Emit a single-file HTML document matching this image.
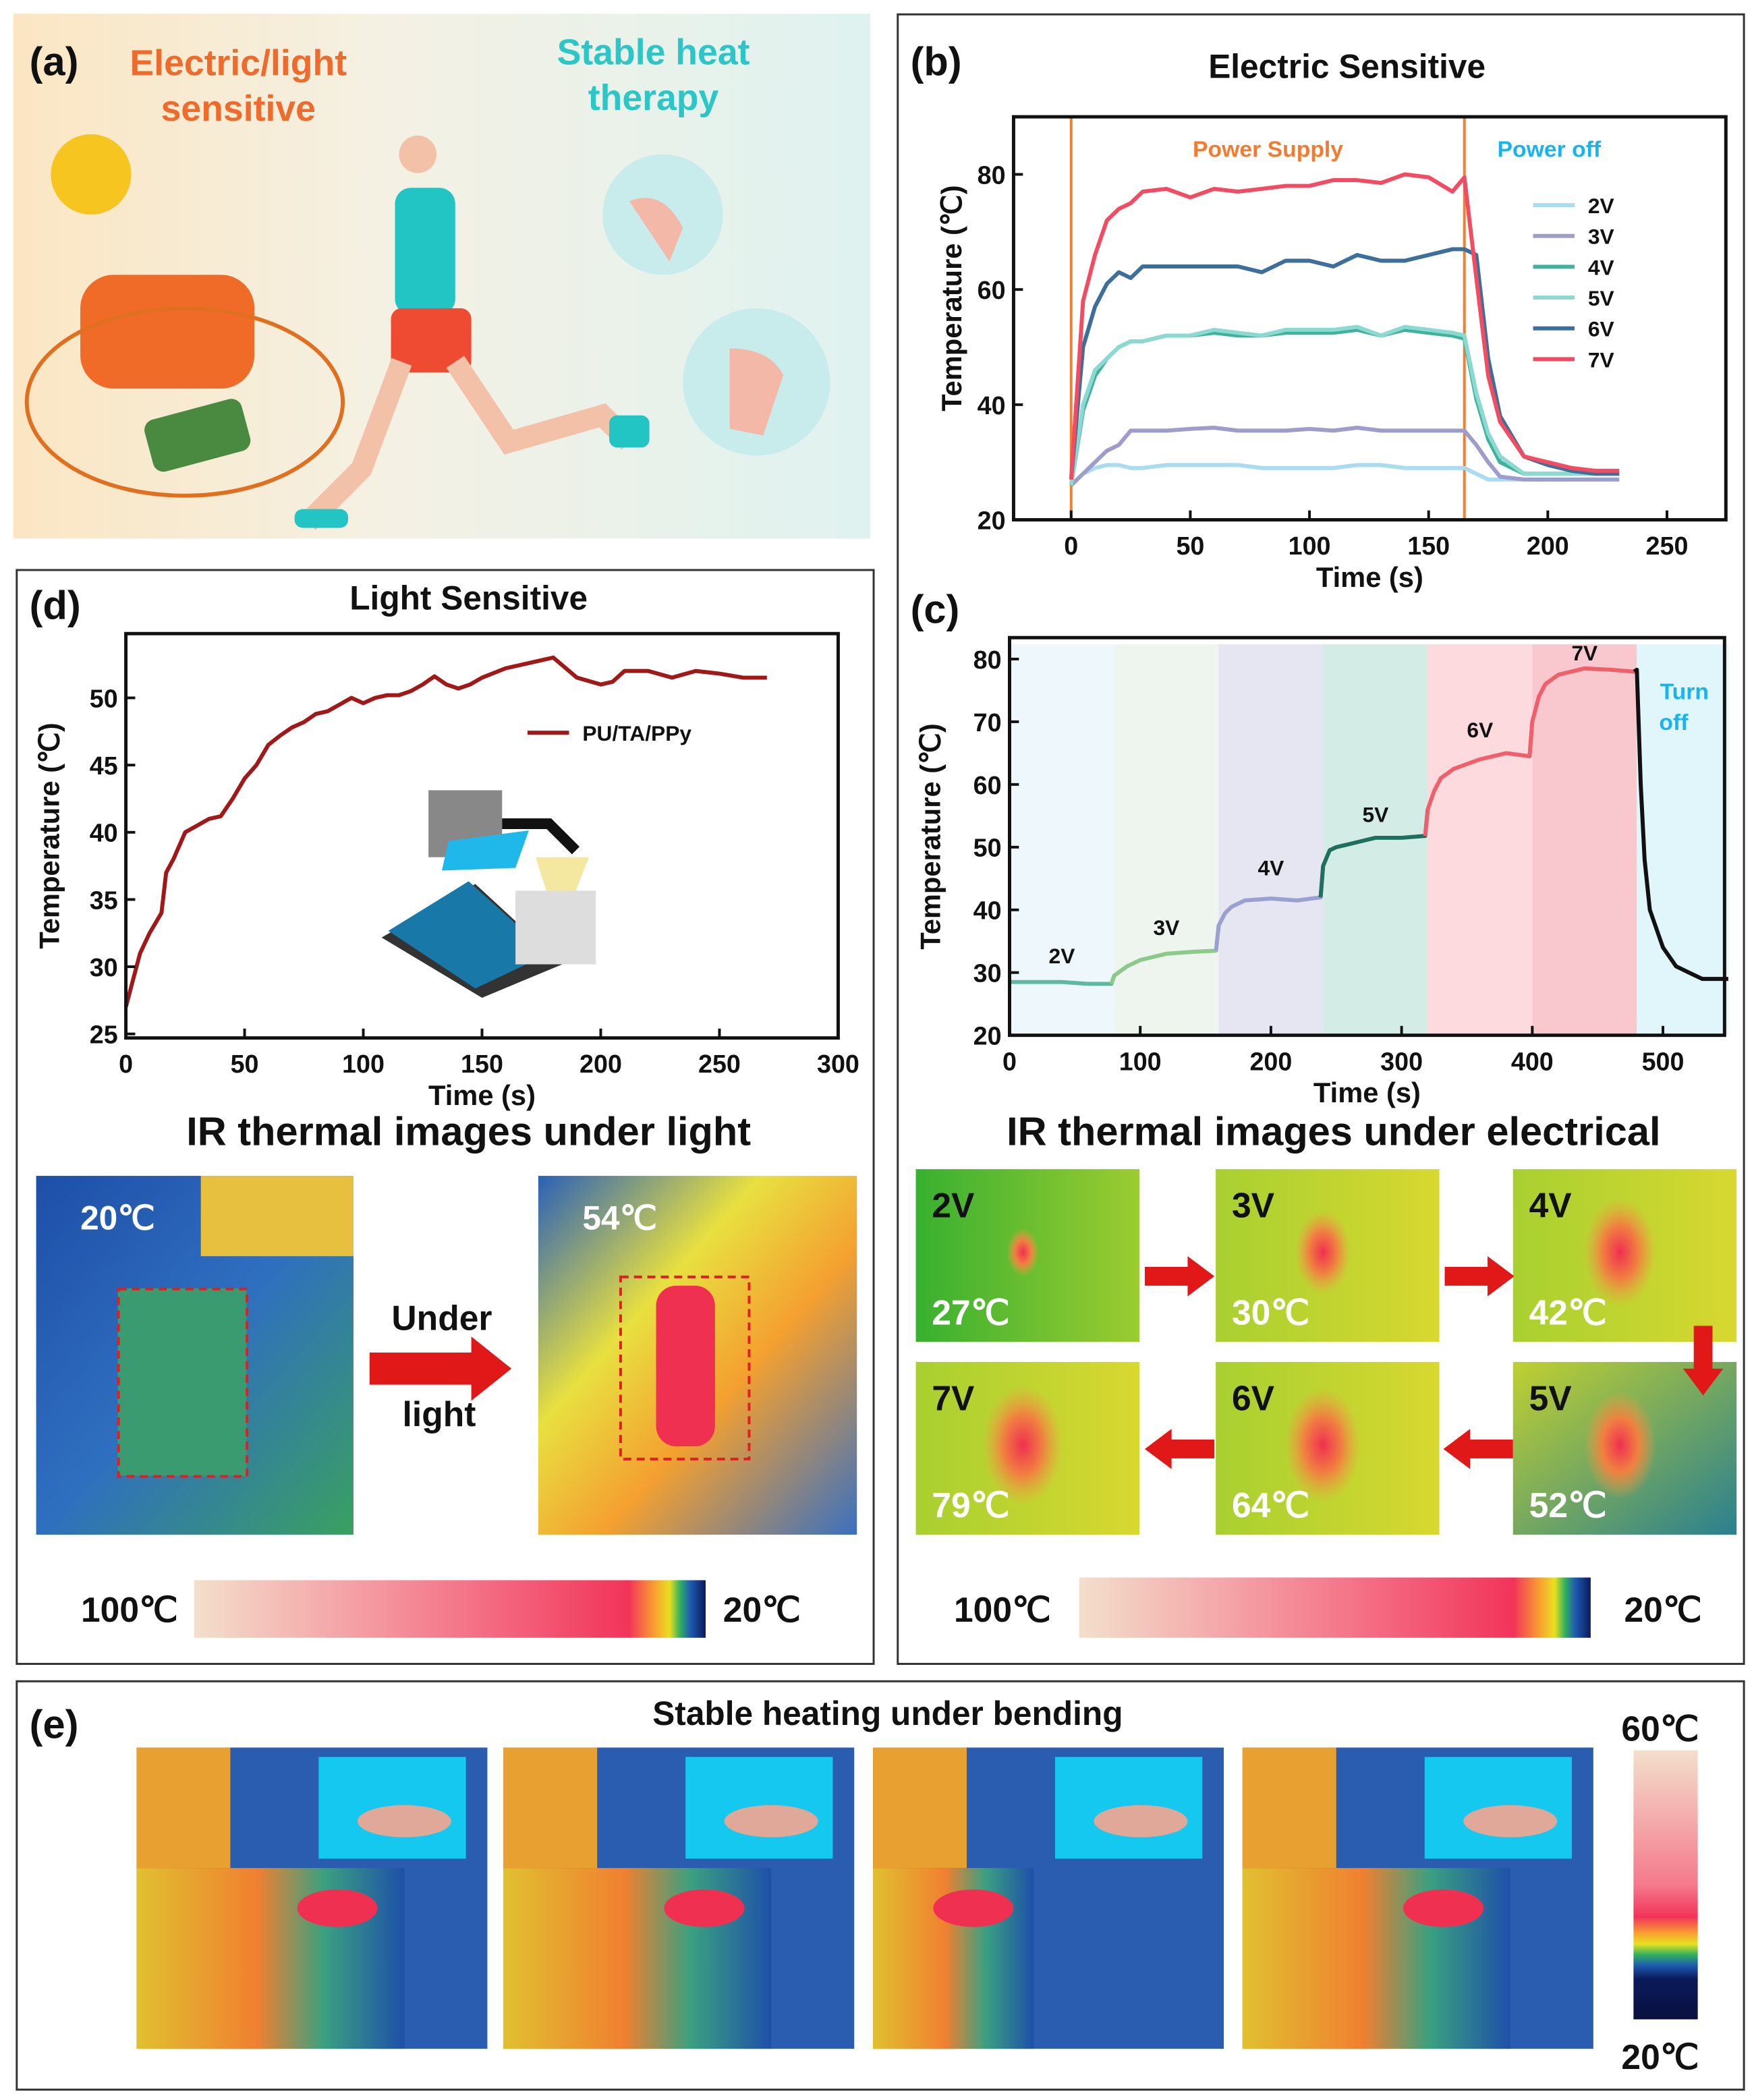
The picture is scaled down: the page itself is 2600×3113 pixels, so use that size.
<!DOCTYPE html>
<html><head><meta charset="utf-8"><style>
html,body{margin:0;padding:0;background:#fff}
svg{display:block;font-family:"Liberation Sans",Arial,sans-serif}
</style></head><body>
<svg id="fig" width="2600" height="3113" viewBox="0 0 1310 1568" xmlns="http://www.w3.org/2000/svg">
<defs>
<linearGradient id="aBg" x1="0" x2="1"><stop offset="0" stop-color="#fbe6c3"/><stop offset="0.45" stop-color="#f4f1e4"/><stop offset="1" stop-color="#dff2f0"/></linearGradient>
<linearGradient id="cmapH" x1="0" x2="1"><stop offset="0" stop-color="#f3dfcc"/><stop offset="0.5" stop-color="#f47a8c"/><stop offset="0.85" stop-color="#f2345a"/><stop offset="0.9" stop-color="#f8a030"/><stop offset="0.93" stop-color="#e8e020"/><stop offset="0.95" stop-color="#30b060"/><stop offset="0.97" stop-color="#1e5ab0"/><stop offset="1" stop-color="#0a1a5a"/></linearGradient>
<linearGradient id="cmapV" x1="0" x2="0" y1="0" y2="1"><stop offset="0" stop-color="#f3dfcc"/><stop offset="0.5" stop-color="#f47a8c"/><stop offset="0.62" stop-color="#f2345a"/><stop offset="0.68" stop-color="#f8a030"/><stop offset="0.72" stop-color="#e8e020"/><stop offset="0.76" stop-color="#30b060"/><stop offset="0.8" stop-color="#1e5ab0"/><stop offset="0.85" stop-color="#0a1a5a"/><stop offset="1" stop-color="#0a1040"/></linearGradient>
<linearGradient id="irBlue" x1="0" x2="1" y1="0" y2="1"><stop offset="0" stop-color="#1e4fa8"/><stop offset="0.5" stop-color="#2f6fc0"/><stop offset="1" stop-color="#3aa060"/></linearGradient>
<linearGradient id="irHot" x1="0" x2="1" y1="0" y2="1"><stop offset="0" stop-color="#2a60b8"/><stop offset="0.35" stop-color="#e8e040"/><stop offset="0.6" stop-color="#f4a030"/><stop offset="1" stop-color="#3a70c0"/></linearGradient>
<radialGradient id="spot" cx="0.5" cy="0.5" r="0.5"><stop offset="0" stop-color="#f03050"/><stop offset="0.5" stop-color="#f08040"/><stop offset="1" stop-color="#f0a040" stop-opacity="0"/></radialGradient>
<linearGradient id="greenIR" x1="0" x2="1"><stop offset="0" stop-color="#38b030"/><stop offset="1" stop-color="#9ccc30"/></linearGradient>
<linearGradient id="yelIR" x1="0" x2="1"><stop offset="0" stop-color="#a8d030"/><stop offset="1" stop-color="#d8d830"/></linearGradient>
<linearGradient id="tealIR" x1="0" x2="1" y1="0" y2="1"><stop offset="0" stop-color="#c0d030"/><stop offset="1" stop-color="#2a8090"/></linearGradient>
<linearGradient id="eImg" x1="0" x2="1"><stop offset="0" stop-color="#e0c030"/><stop offset="0.45" stop-color="#f08030"/><stop offset="0.7" stop-color="#3aa080"/><stop offset="1" stop-color="#1e50a8"/></linearGradient>
</defs>

<g>
<rect x="10" y="10" width="640" height="392" fill="url(#aBg)"/>
<text x="22" y="56" font-size="30" font-weight="bold" fill="#111">(a)</text>
<text x="178" y="56" font-size="27" font-weight="bold" fill="#ef6b2c" text-anchor="middle">Electric/light</text>
<text x="178" y="90" font-size="27" font-weight="bold" fill="#ef6b2c" text-anchor="middle">sensitive</text>
<text x="488" y="48" font-size="27" font-weight="bold" fill="#2cc6c6" text-anchor="middle">Stable heat</text>
<text x="488" y="82" font-size="27" font-weight="bold" fill="#2cc6c6" text-anchor="middle">therapy</text>
<circle cx="68" cy="130" r="30" fill="#f7c520"/>
<rect x="60" y="205" width="130" height="85" rx="25" fill="#f06a28"/>
<ellipse cx="138" cy="300" rx="118" ry="70" fill="none" stroke="#e07020" stroke-width="3"/>
<rect x="110" y="305" width="75" height="40" rx="8" fill="#4a8a40" transform="rotate(-15 147 325)"/>
<circle cx="495" cy="160" r="45" fill="#c8ecec"/>
<circle cx="565" cy="285" r="55" fill="#c8ecec"/>
<path d="M470 150 q25 -10 40 20 l-10 25 z" fill="#f3b8a8"/>
<path d="M545 260 q30 0 40 20 l-15 45 -25 -5 z" fill="#f3b8a8"/>
<g>
<circle cx="312" cy="115" r="14" fill="#f3c0a8"/>
<rect x="295" y="140" width="45" height="95" rx="12" fill="#22c4c4"/>
<rect x="292" y="230" width="60" height="48" rx="8" fill="#ef4b33"/>
<path d="M300 270 l-30 80 -40 40" stroke="#f3c0a8" stroke-width="16" fill="none"/>
<path d="M340 270 l40 60 70 -20 20 20" stroke="#f3c0a8" stroke-width="16" fill="none"/>
<rect x="220" y="380" width="40" height="14" rx="6" fill="#22c4c4"/>
<rect x="455" y="310" width="30" height="24" rx="6" fill="#22c4c4"/>
</g>
</g>

<rect x="670.5" y="10.5" width="632" height="1232" fill="none" stroke="#333" stroke-width="1.5"/>
<rect x="12.5" y="425.5" width="640" height="817" fill="none" stroke="#333" stroke-width="1.5"/>
<rect x="12.5" y="1255.5" width="1290" height="305" fill="none" stroke="#333" stroke-width="1.5"/>

<text x="680" y="56" font-size="30" font-weight="bold" fill="#111">(b)</text>
<text x="1006" y="58" font-size="25" font-weight="bold" fill="#111" text-anchor="middle">Electric Sensitive</text>
<g id="chartB"></g>

<text x="680" y="465" font-size="30" font-weight="bold" fill="#111">(c)</text>
<g id="chartC"></g>

<text x="22" y="462" font-size="30" font-weight="bold" fill="#111">(d)</text>
<text x="350" y="455" font-size="25" font-weight="bold" fill="#111" text-anchor="middle">Light Sensitive</text>
<g id="chartD"></g>

<g>
<polygon points="285,700 355,660 420,720 360,745" fill="#333"/>
<polygon points="290,695 350,658 410,712 355,738" fill="#1878a8"/>
<rect x="320" y="590" width="55" height="50" fill="#888"/>
<polygon points="335,628 395,620 385,648 330,650" fill="#20b8ea"/>
<rect x="385" y="665" width="60" height="55" fill="#ddd"/>
<polygon points="400,640 440,640 430,665 408,665" fill="#f4e8a0"/>
<path d="M375 615 h35 l20 20" stroke="#111" stroke-width="8" fill="none"/>
</g>

<text x="350" y="855" font-size="30" font-weight="bold" fill="#111" text-anchor="middle">IR thermal images under light</text>
<g>
<rect x="27" y="878" width="237" height="268" fill="url(#irBlue)"/>
<rect x="150" y="878" width="114" height="60" fill="#e8c040"/>
<rect x="88" y="962" width="96" height="140" fill="#3a9a70"/>
<rect x="88.5" y="962.5" width="96" height="140" fill="none" stroke="#e02020" stroke-width="2" stroke-dasharray="6 4"/>
<text x="60" y="918" font-size="25" font-weight="bold" fill="#fff">20℃</text>
</g>
<g>
<rect x="402" y="878" width="238" height="268" fill="url(#irHot)"/>
<rect x="490" y="960" width="44" height="120" rx="15" fill="#f03050"/>
<rect x="463.5" y="953.5" width="96" height="136" fill="none" stroke="#e02020" stroke-width="2" stroke-dasharray="6 4"/>
<text x="435" y="918" font-size="25" font-weight="bold" fill="#fff">54℃</text>
</g>
<polygon points="276,1010 352,1010 352,998 382,1022 352,1046 352,1034 276,1034" fill="#e01818"/>
<text x="330" y="993" font-size="26" font-weight="bold" fill="#111" text-anchor="middle">Under</text>
<text x="328" y="1065" font-size="26" font-weight="bold" fill="#111" text-anchor="middle">light</text>
<text x="133" y="1211" font-size="26" font-weight="bold" fill="#111" text-anchor="end">100℃</text>
<rect x="145" y="1180" width="382" height="43" fill="url(#cmapH)"/>
<text x="540" y="1211" font-size="26" font-weight="bold" fill="#111">20℃</text>

<text x="996" y="855" font-size="30" font-weight="bold" fill="#111" text-anchor="middle">IR thermal images under  electrical</text>
<g id="irElec"></g>
<text x="785" y="1211" font-size="26" font-weight="bold" fill="#111" text-anchor="end">100℃</text>
<rect x="806" y="1178" width="382" height="45" fill="url(#cmapH)"/>
<text x="1213" y="1211" font-size="26" font-weight="bold" fill="#111">20℃</text>

<text x="22" y="1298" font-size="30" font-weight="bold" fill="#111">(e)</text>
<text x="663" y="1288" font-size="25" font-weight="bold" fill="#111" text-anchor="middle">Stable heating under bending</text>
<g id="eImgs"></g>
<text x="1240" y="1300" font-size="26" font-weight="bold" fill="#111" text-anchor="middle">60℃</text>
<rect x="1220" y="1307" width="48" height="201" fill="url(#cmapV)"/>
<text x="1240" y="1545" font-size="26" font-weight="bold" fill="#111" text-anchor="middle">20℃</text>
</svg>

<script>
const NS = "http://www.w3.org/2000/svg";
const bTimes = [0,5,10,15,20,25,30,40,50,60,70,80,90,100,110,120,130,140,150,160,165,170,175,180,190,200,210,220,230];
const bSeriesNames = ["2V","3V","4V","5V","6V","7V"];
const bV2 = [26,28,29,29.5,29.5,29,29,29.5,29.5,29.5,29.5,29,29,29,29,29.5,29.5,29,29,29,29,28,27,27,27,27,27,27,27];
const bV3 = [26,28,30,32,33,35.5,35.5,35.5,35.8,36,35.5,35.5,35.5,35.8,35.5,36,35.5,35.5,35.5,35.5,35.5,33,30,27.5,27,27,27,27,27];
const bV4 = [26,39,45,48,50,51,51,52,52,52.5,52,52,52.5,52.5,52.5,53,52,53,52.5,52,51.5,41,34,30,28,28,28,28,28];
const bV5 = [26,40,46,48,50,51,51,52,52,53,52.5,52,53,53,53,53.5,52,53.5,53,52.5,52,42,35,31,28,28,28,28,28];
const bV6 = [27,50,57,61,63,62,64,64,64,64,64,63,65,65,64,66,65,65,66,67,67,66,48,38,31,29.5,28.5,28,28];
const bV7 = [27,58,66,72,74,75,77,77.5,76,77.5,77,77.5,78,78,79,79,78.5,80,79.5,77,79.5,62,45,37,31,30,29,28.5,28.5];
const bXTicks = [0,50,100,150,200,250];
const bYTicks = [20,40,60,80];
const cTimes = [0,20,40,60,78,80,90,100,120,140,158,160,165,170,180,200,220,238,240,245,250,260,280,300,318,320,325,330,340,360,380,398,400,405,410,420,440,460,478,480,483,486,490,500,510,520,530,550];
const cTemps = [28.5,28.5,28.5,28.2,28.2,29.5,31,32,33,33.3,33.5,37.5,39.5,40.5,41.5,41.8,41.5,42,47,49.5,50,50.5,51.5,51.5,51.8,56,59,61,62.5,64,65,64.5,70,74,76,77.5,78.5,78.3,78,78.3,60,48,40,34,31,30,29,29];
const cBands = [0,80,160,240,320,400,480,550];
const cBandLabels = ["2V","3V","4V","5V","6V","7V"];
const cLabelTemps = [31.5,36,45.5,54,67.5,79.8];
const cXTicks = [0,100,200,300,400,500];
const cYTicks = [20,30,40,50,60,70,80];
const dTimes = [0,3,6,10,15,17,20,25,30,35,40,45,50,55,60,65,70,75,80,85,90,95,100,105,110,115,120,125,130,135,140,145,150,160,170,180,190,200,205,210,220,230,240,250,260,270];
const dTemps = [27,29,31,32.5,34,37,38,40,40.5,41,41.2,42.5,44,45,46.5,47.2,47.8,48.2,48.8,49,49.5,50,49.6,50,50.2,50.2,50.5,51,51.6,51,50.7,51,51.5,52.2,52.6,53,51.5,51,51.2,52,52,51.5,52,51.8,51.5,51.5];
const dXTicks = [0,50,100,150,200,250,300];
const dYTicks = [25,30,35,40,45,50];

function mk(tag, attrs, parent, text){
  const e=document.createElementNS(NS,tag);
  for(const k in attrs) e.setAttribute(k,attrs[k]);
  if(text!==undefined) e.textContent=text;
  parent.appendChild(e); return e;
}
function scale(d0,d1,r0,r1){return v=>r0+(v-d0)*(r1-r0)/(d1-d0);}
function axes(g,box,xs,ys,xt,yt,xlabel,ylabel){
  const fr=mk('rect',{x:box.x0,y:box.y0,width:box.x1-box.x0,height:box.y1-box.y0,fill:'none',stroke:'#111','stroke-width':2.5},g);
  
  
  xt.forEach(v=>{
    mk('line',{x1:xs(v),x2:xs(v),y1:box.y1,y2:box.y1-7,stroke:'#111','stroke-width':2},g);
    const t=mk('text',{x:xs(v),y:box.y1+26,'font-size':19,'font-weight':'bold','text-anchor':'middle',fill:'#111'},g,String(v));
    
    
  });
  yt.forEach(v=>{
    mk('line',{x1:box.x0,x2:box.x0+7,y1:ys(v),y2:ys(v),stroke:'#111','stroke-width':2},g);
    const t=mk('text',{x:box.x0-6,y:ys(v)+7,'font-size':19,'font-weight':'bold','text-anchor':'end',fill:'#111'},g,String(v));
    
    
  });
  const xl=mk('text',{x:(box.x0+box.x1)/2,y:box.y1+50,'font-size':21,'font-weight':'bold','text-anchor':'middle',fill:'#111'},g,xlabel);
  
  
  const cy=(box.y0+box.y1)/2+(box.yOff||0);
  const yl=mk('text',{x:box.ylx,y:cy,'font-size':21,'font-weight':'bold','text-anchor':'middle',fill:'#111',transform:`rotate(-90 ${box.ylx} ${cy})`},g,ylabel);
  
  
}
function pathD(xsArr,ysArr,xs,ys){return xsArr.map((v,i)=>(i?'L':'M')+xs(v).toFixed(1)+' '+ys(ysArr[i]).toFixed(1)).join(' ');}

(function(){
  const g=document.getElementById('chartB');
  const box={x0:757,x1:1289,y0:87,y1:388,ylx:718,yOff:-15};
  const xs=scale(0,250,800,1245), ys=scale(20,80,388,130);
  mk('line',{x1:xs(0),x2:xs(0),y1:box.y0,y2:box.y1,stroke:'#f08030','stroke-width':2},g);
  mk('line',{x1:xs(165),x2:xs(165),y1:box.y0,y2:box.y1,stroke:'#f08030','stroke-width':2},g);
  const t1=mk('text',{x:947,y:117,'font-size':17,'font-weight':'bold',fill:'#f47a30','text-anchor':'middle'},g,'Power Supply');
  
  
  const t2=mk('text',{x:1157,y:117,'font-size':17,'font-weight':'bold',fill:'#19b4ee','text-anchor':'middle'},g,'Power off');
  
  
  const vals=[bV2,bV3,bV4,bV5,bV6,bV7];
  const cols=['#a9dcf0','#9e9ccb','#3db49a','#8cd9d2','#3e6e9a','#f24c62'];
  vals.forEach((v,i)=>{
    const p=mk('path',{d:pathD(bTimes,v,xs,ys),fill:'none',stroke:cols[i],'stroke-width':3,'stroke-linejoin':'round'},g);
    
    
    const ly=153+i*23;
    const l=mk('line',{x1:1145,x2:1176,y1:ly,y2:ly,stroke:cols[i],'stroke-width':3},g);
    
    
    const lt=mk('text',{x:1186,y:ly+6,'font-size':16,'font-weight':'bold',fill:'#111'},g,bSeriesNames[i]);
    
    
  });
  axes(g,box,xs,ys,bXTicks,bYTicks,'Time (s)','Temperature (℃)');
})();

(function(){
  const g=document.getElementById('chartC');
  const box={x0:754,x1:1288,y0:476,y1:773,ylx:702};
  const xs=scale(0,500,754,1242), ys=scale(20,80,773,492);
  const bandCols=['#eef7fc','#edf5ee','#e6e5f2','#d4ece6','#fcdadd','#f8c8ce','#e0f6fa'];
  for(let i=0;i<cBands.length-1;i++){
    const r=mk('rect',{x:xs(cBands[i]),y:box.y0+5,width:xs(cBands[i+1])-xs(cBands[i]),height:box.y1-box.y0-5,fill:bandCols[i]},g);
    
    
  }
  const segCols=['#5fb8a0','#8cc98a','#9aa0d0','#1f6e5e','#f0606a','#f0606a','#111'];
  for(let b=0;b<cBands.length-1;b++){
    const xsA=[],ysA=[];
    cTimes.forEach((t,i)=>{ if(t>=cBands[b]-2 && t<=cBands[b+1]+2){xsA.push(t);ysA.push(cTemps[i]);} });
    const p=mk('path',{d:pathD(xsA,ysA,xs,ys),fill:'none',stroke:segCols[b],'stroke-width':3,'stroke-linejoin':'round'},g);
    
    
  }
  cBandLabels.forEach((lab,i)=>{
    const t=mk('text',{x:xs((cBands[i]+cBands[i+1])/2),y:ys(cLabelTemps[i]),'font-size':16,'font-weight':'bold',fill:'#111','text-anchor':'middle'},g,lab);
    
    
  });
  const o1=mk('text',{x:1258,y:522,'font-size':17,'font-weight':'bold',fill:'#19b4ee','text-anchor':'middle'},g,'Turn');
  
  
  mk('text',{x:1250,y:545,'font-size':17,'font-weight':'bold',fill:'#19b4ee','text-anchor':'middle'},g,'off');
  axes(g,box,xs,ys,cXTicks,cYTicks,'Time (s)','Temperature (℃)');
})();

(function(){
  const g=document.getElementById('chartD');
  const box={x0:94,x1:626,y0:473,y1:775,ylx:44};
  const xs=scale(0,300,94,626), ys=scale(25,50,772,521);
  const p=mk('path',{d:pathD(dTimes,dTemps,xs,ys),fill:'none',stroke:'#a01818','stroke-width':3,'stroke-linejoin':'round'},g);
  
  
  const l=mk('line',{x1:394,x2:425,y1:547,y2:547,stroke:'#a01818','stroke-width':3},g);
  
  
  const lt=mk('text',{x:435,y:553,'font-size':16,'font-weight':'bold',fill:'#111'},g,'PU/TA/PPy');
  
  
  axes(g,box,xs,ys,dXTicks,dYTicks,'Time (s)','Temperature (℃)');
})();

(function(){
  const g=document.getElementById('irElec');
  const cells=[
    {x:684,y:873,v:'2V',t:'27℃',f:'url(#greenIR)',s:0.4},
    {x:908,y:873,v:'3V',t:'30℃',f:'url(#yelIR)',s:0.7},
    {x:1130,y:873,v:'4V',t:'42℃',f:'url(#yelIR)',s:0.9},
    {x:684,y:1017,v:'7V',t:'79℃',f:'url(#yelIR)',s:1},
    {x:908,y:1017,v:'6V',t:'64℃',f:'url(#yelIR)',s:0.95},
    {x:1130,y:1017,v:'5V',t:'52℃',f:'url(#tealIR)',s:0.9}];
  cells.forEach(c=>{
    const gg=mk('g',{},g);
    
    
    mk('rect',{x:c.x,y:c.y,width:167,height:129,fill:c.f},gg);
    mk('ellipse',{cx:c.x+80,cy:c.y+62,rx:30*c.s,ry:45*c.s,fill:'url(#spot)'},gg);
    mk('text',{x:c.x+12,y:c.y+36,'font-size':26,'font-weight':'bold',fill:'#111'},gg,c.v);
    mk('text',{x:c.x+12,y:c.y+116,'font-size':26,'font-weight':'bold',fill:'#fff'},gg,c.t);
  });
  const arrows=[[855,953,0],[1079,953,0],[1272,990,90],[1130,1082,180],[907,1082,180]];
  arrows.forEach(a=>{
    const ar=mk('polygon',{points:'0,-7 32,-7 32,-15 52,0 32,15 32,7 0,7',fill:'#e01818',transform:`translate(${a[0]} ${a[1]}) rotate(${a[2]})`},g);
    
    
  });
})();

(function(){
  const g=document.getElementById('eImgs');
  const xsE=[102,376,652,928];
  xsE.forEach((x,i)=>{
    const gg=mk('g',{},g);
    
    
    mk('rect',{x:x,y:1305,width:262,height:225,fill:'#2a5cb0'},gg);
    mk('rect',{x:x,y:1305,width:70,height:90,fill:'#e8a030'},gg);
    mk('rect',{x:x,y:1395,width:i===2?120:200,height:135,fill:'url(#eImg)'},gg);
    mk('ellipse',{cx:x+(i===2?75:150),cy:1425,rx:30,ry:14,fill:'#f03050'},gg);
    mk('rect',{x:x+136,y:1312,width:110,height:76,fill:'#14c8f0'},gg);
    mk('ellipse',{cx:x+200,cy:1360,rx:35,ry:12,fill:'#e0a898'},gg);
  });
})();
</script>
</body></html>
